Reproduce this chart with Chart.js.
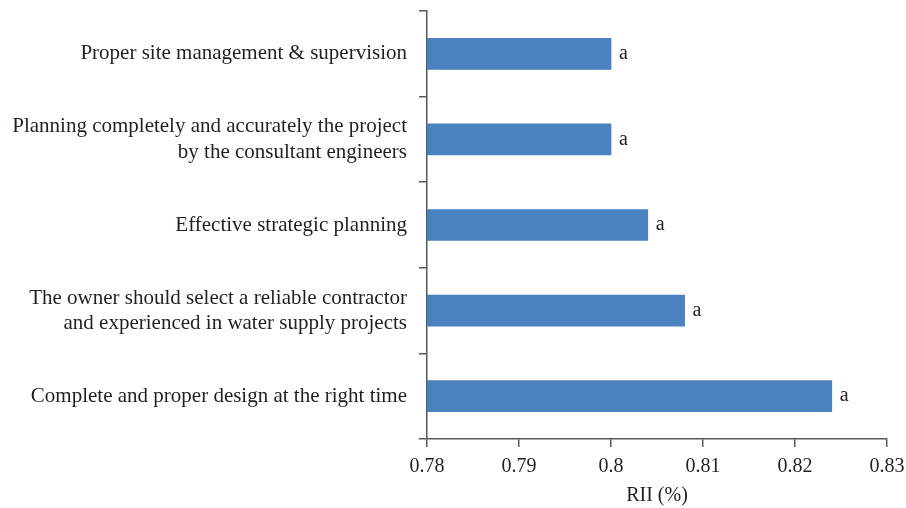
<!DOCTYPE html>
<html>
<head>
<meta charset="utf-8">
<script src="https://cdn.jsdelivr.net/npm/chart.js@4/dist/chart.umd.min.js"></script>
<style>
  html, body { margin: 0; padding: 0; background: #fff; }
  #wrap { width: 906px; height: 508px; }
</style>
</head>
<body>
<div id="wrap"><canvas id="riiChart" width="906" height="508"></canvas></div>
<script>
// Factores (de arriba hacia abajo)
const factores = [
    'Proper site management & supervision',
    ['Planning completely and accurately the project', 'by the consultant engineers'],
    'Effective strategic planning',
    ['The owner should select a reliable contractor', 'and experienced in water supply projects'],
    'Complete and proper design at the right time'
];
const valoresRII = [0.800, 0.800, 0.804, 0.808, 0.824];
const etiquetas = ['a', 'a', 'a', 'a', 'a'];
const ticksX = [0.78, 0.79, 0.8, 0.81, 0.82, 0.83];

const familia = '"Liberation Serif", "DejaVu Serif", serif';
const fuenteEtiquetas = { family: familia, size: 21, lineHeight: 1.2 };
const fuente = { family: familia, size: 20 };
const colorTexto = '#231f20';
const colorEje = '#595959';

// Letras al final de cada barra
const letrasPlugin = {
    id: 'letras',
    afterDatasetsDraw(chart) {
        const ctx = chart.ctx;
        const meta = chart.getDatasetMeta(0);
        ctx.save();
        ctx.font = fuente.size + 'px ' + familia;
        ctx.fillStyle = colorTexto;
        ctx.textAlign = 'left';
        ctx.textBaseline = 'middle';
        meta.data.forEach((bar, i) => {
            ctx.fillText(etiquetas[i], bar.x + 8, bar.y);
        });
        ctx.restore();
    }
};

Chart.defaults.font.family = familia;
Chart.defaults.color = colorTexto;

new Chart(document.getElementById('riiChart').getContext('2d'), {
    type: 'bar',
    data: {
        labels: factores,
        datasets: [{
            data: valoresRII,
            backgroundColor: '#4a81bf',
            barThickness: 31
        }]
    },
    options: {
        indexAxis: 'y',
        responsive: false,
        animation: false,
        layout: { padding: { top: 11, right: 19, left: 0, bottom: 0 } },
        plugins: {
            legend: { display: false },
            tooltip: { enabled: false }
        },
        scales: {
            x: {
                type: 'linear',
                min: 0.78,
                max: 0.83,
                afterBuildTicks: s => { s.ticks = ticksX.map(v => ({ value: v })); },
                afterFit: s => { s.height = 69; s.paddingLeft = 0; s.paddingRight = 0; },
                border: { color: colorEje, width: 1.5 },
                grid: { drawOnChartArea: false, color: colorEje, lineWidth: 1.5, tickLength: 8 },
                ticks: {
                    font: fuente,
                    color: colorTexto,
                    padding: 8,
                    maxRotation: 0,
                    callback: v => String(Number(v.toFixed(2)))
                },
                title: {
                    display: true,
                    text: 'RII (%)',
                    font: fuente,
                    color: colorTexto,
                    padding: { top: 0, bottom: 0 }
                }
            },
            y: {
                afterFit: s => { s.width = 427; s.paddingTop = 0; s.paddingBottom = 0; },
                border: { color: colorEje, width: 1.5 },
                grid: { drawOnChartArea: false, color: colorEje, lineWidth: 1.5, tickLength: 8, offset: true },
                ticks: { font: fuenteEtiquetas, color: colorTexto, padding: 12, autoSkip: false }
            }
        }
    },
    plugins: [letrasPlugin]
});
</script>
</body>
</html>
